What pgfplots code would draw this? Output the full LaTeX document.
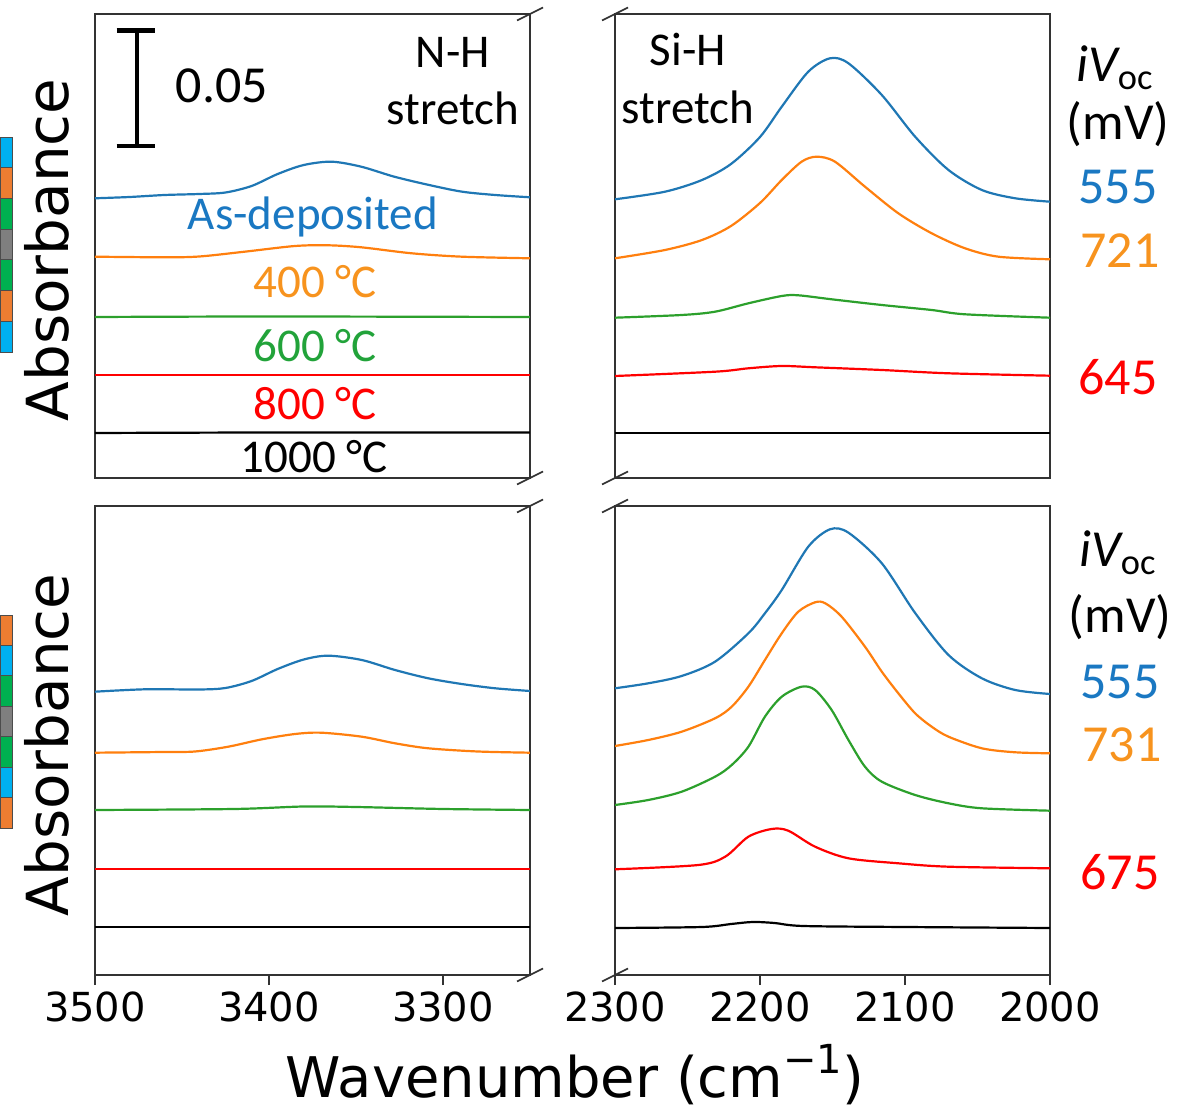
\documentclass[border=0pt]{standalone}
\usepackage{fontspec}
\setmainfont{DejaVu Sans}
\newfontfamily\carlito{Carlito}
\usepackage{pgfplots}
\pgfplotsset{compat=1.18}

\definecolor{cblue}{HTML}{1F77B4}
\definecolor{corange}{HTML}{FF7F0E}
\definecolor{cgreen}{HTML}{2CA02C}
\definecolor{cred}{HTML}{FF0000}
\definecolor{tblue}{HTML}{1A78C2}
\definecolor{torange}{HTML}{F7931E}
\definecolor{tgreen}{HTML}{22A33A}
\definecolor{sqb}{HTML}{00B0F0}
\definecolor{sqo}{HTML}{ED7D31}
\definecolor{sqg}{HTML}{00B050}
\definecolor{sqk}{HTML}{7F7F7F}

% y values are heights above the panel floor in image pixels (116 px = 0.05 absorbance)
\pgfplotsset{
  panel/.style={
    scale only axis, width=217.5pt, anchor=south west,
    x dir=reverse, ytick=\empty,
    axis line style={black!80, line width=0.8pt},
    tick style={black!80, line width=0.8pt},
    major tick length=5pt, xtick align=outside, xtick pos=left,
    /pgf/number format/assume math mode=true,
    /pgf/number format/1000 sep={},
    xticklabel style={font=\fontsize{20}{20}\selectfont},
    every axis plot/.append style={line width=1.1pt, smooth, tension=0.5, no markers},
  },
  toppanel/.style={ymin=0, ymax=464, height=232pt, xtick=\empty},
  botpanel/.style={ymin=0, ymax=469, height=234.5pt},
}

\begin{document}
\begin{tikzpicture}
\path[use as bounding box] (0,0) rectangle (589pt,555pt);

% ---------- top left: N-H ----------
\begin{axis}[panel, toppanel, name=tl, at={(47.5pt,316pt)}, xmin=3250, xmax=3500]
\addplot[cblue] coordinates {(3500,279.7)(3480,281)(3460,283)(3440,284)(3425,285.5)(3410,292)(3395,304)(3380,313)(3364,316.3)(3347,311.3)(3328,301.3)(3308,293)(3289,286.3)(3270,283)(3250,280.7)};
\addplot[corange] coordinates {(3500,221.3)(3460,220.7)(3440,221.5)(3414,226.3)(3385,232)(3366,232.7)(3347,230.7)(3318,224.7)(3289,221.3)(3250,219.7)};
\addplot[cgreen] coordinates {(3500,161)(3400,161.5)(3250,161)};
\addplot[cred] coordinates {(3500,103)(3400,103)(3250,103)};
\addplot[black] coordinates {(3500,45)(3400,45.5)(3250,45.5)};
\draw[black, line width=2.2pt] (axis cs:3476,332) -- (axis cs:3476,447.3);
\draw[black, line width=2.2pt] (axis cs:3487.5,332) -- (axis cs:3465.5,332);
\draw[black, line width=2.2pt] (axis cs:3487.5,447.3) -- (axis cs:3465.5,447.3);
\end{axis}

% ---------- top right: Si-H ----------
\begin{axis}[panel, toppanel, name=tr, at={(307.5pt,316pt)}, xmin=2000, xmax=2300]
\addplot[cblue] coordinates {(2300,278.7)(2265.5,286.3)(2240,298)(2220,314)(2200,341)(2185,371.3)(2166.7,406.3)(2151.7,419.7)(2139,414.7)(2116,383)(2093,341.3)(2070,308)(2047,288)(2024,279.7)(2000,276.3)};
\addplot[corange] coordinates {(2300,219.7)(2265.5,228)(2240,238)(2220,252)(2200,275)(2185,298)(2171.3,316.3)(2161,321.3)(2148.3,316.3)(2127.6,291.3)(2104.6,264.7)(2081.6,244.7)(2058.6,229.7)(2035.6,221.3)(2000,218.7)};
\addplot[cgreen] coordinates {(2300,160.3)(2254,163)(2231,166.3)(2208,174.7)(2185,182)(2173.6,182.7)(2150.6,178.7)(2116,173)(2081.6,168)(2058.6,163.7)(2000,160.3)};
\addplot[cred] coordinates {(2300,102)(2231,106.3)(2208,109.7)(2185,112)(2162,110.7)(2116,108)(2070,104.7)(2000,102.3)};
\addplot[black] coordinates {(2300,44.7)(2150,44.7)(2000,44.7)};
\end{axis}

% ---------- bottom left: N-H ----------
\begin{axis}[panel, botpanel, name=bl, at={(47.5pt,67.5pt)}, xmin=3250, xmax=3500, xtick={3500,3400,3300}]
\addplot[cblue] coordinates {(3500,283.3)(3471,285.7)(3440,285.5)(3425,287)(3410,294)(3395,306)(3380,315.5)(3366,319.3)(3346.7,315)(3327.6,305)(3308.5,296.7)(3289.3,291)(3270,286.7)(3250,284)};
\addplot[corange] coordinates {(3500,222.3)(3460,223)(3442.5,223.5)(3423.4,228.3)(3404,235.7)(3385,241)(3370,242.3)(3346.7,238.3)(3327.6,231.7)(3308.5,226.7)(3280,223.5)(3250,222.3)};
\addplot[cgreen] coordinates {(3500,165)(3420,166)(3380,168.5)(3350,168)(3300,166)(3250,165)};
\addplot[cred] coordinates {(3500,106)(3400,106)(3250,106)};
\addplot[black] coordinates {(3500,48)(3400,48)(3250,48)};
\end{axis}

% ---------- bottom right: Si-H ----------
\begin{axis}[panel, botpanel, name=br, at={(307.5pt,67.5pt)}, xmin=2000, xmax=2300, xtick={2300,2200,2100,2000}]
\addplot[cblue] coordinates {(2300,286.7)(2277,291.7)(2254,299)(2231,313.3)(2208,341.7)(2196.6,361.7)(2185,385)(2166.7,428.3)(2151.7,445.7)(2139,442.3)(2116,411.7)(2093,362)(2070,320)(2047,296.7)(2024,285)(2000,281)};
\addplot[corange] coordinates {(2300,229)(2277,235)(2254,243.3)(2231,256.7)(2219.5,268.3)(2208,288.3)(2196.6,315)(2185,341.7)(2173.6,363.3)(2162,372.7)(2155,371.7)(2143.7,358.3)(2127.6,328.3)(2116,303.3)(2104.6,281.7)(2093,261.7)(2081.6,248.3)(2070,238.3)(2047,226.7)(2024,222.7)(2000,221.7)};
\addplot[cgreen] coordinates {(2300,170)(2277,175)(2254,183.3)(2231,198.3)(2219.5,210)(2208,228.3)(2196.6,258.3)(2185,278.3)(2171.3,288.3)(2162,285)(2150.6,265)(2139,235)(2127.6,208.3)(2116,193.3)(2093,180)(2070,171.7)(2047,166.7)(2000,164.3)};
\addplot[cred] coordinates {(2300,105.7)(2242.5,110)(2224,118.3)(2208,138.3)(2192,146)(2180.5,144.3)(2162,128.3)(2139,116.7)(2104.6,111.7)(2070,108.3)(2000,106.7)};
\addplot[black] coordinates {(2300,47)(2240,48)(2220,51)(2205,53)(2190,52)(2170,49)(2100,48)(2000,47)};
\end{axis}

% axis break marks
\foreach \c in {tl.north east, tl.south east, bl.north east, bl.south east,
                tr.north west, tr.south west, br.north west, br.south west}
  \draw[black!80, line width=0.8pt] ([shift={(-6.5pt,-3.25pt)}]\c) -- ([shift={(6.5pt,3.25pt)}]\c);

% cropped legend swatches at the left edge
\foreach \col [count=\i from 0] in {sqb,sqo,sqg,sqk,sqg,sqo,sqb}
  \filldraw[fill=\col, draw=black!70, line width=0.4pt] (0pt,{486.5pt-\i*15.36pt}) rectangle (6pt,{486.5pt-(\i+1)*15.36pt});
\foreach \col [count=\i from 0] in {sqo,sqb,sqg,sqk,sqg,sqb,sqo}
  \filldraw[fill=\col, draw=black!70, line width=0.4pt] (0pt,{247.5pt-\i*15.21pt}) rectangle (6pt,{247.5pt-(\i+1)*15.21pt});

% axis titles
\node[rotate=90, font=\fontsize{29}{29}\selectfont] at (23.5pt,430pt) {Absorbance};
\node[rotate=90, font=\fontsize{29}{29}\selectfont] at (23.5pt,182.5pt) {Absorbance};
\node[anchor=base, inner sep=0pt, font=\fontsize{28}{28}\selectfont] at (287.5pt,6.5pt)
  {Wavenumber (cm\raisebox{0.42em}{\fontsize{20}{20}\selectfont −1})};

% panel annotations
\begin{scope}[every node/.style={anchor=base, inner sep=0pt, font=\carlito\fontsize{23.5}{23.5}\selectfont}]
\node at (111pt,503.5pt) {\fontsize{26}{26}\selectfont 0.05};
\node at (226.5pt,521pt) {N-H};
\node at (226.5pt,492.5pt) {stretch};
\node at (344pt,522pt) {Si-H};
\node at (344pt,493pt) {stretch};
\node[text=tblue] at (156.5pt,440pt) {As-deposited};
\node[text=torange] at (157.5pt,406pt) {400 °C};
\node[text=tgreen] at (157.5pt,374pt) {600 °C};
\node[text=cred] at (157.5pt,345pt) {800 °C};
\node[text=black] at (157pt,318.5pt) {1000 °C};
\end{scope}

% iVoc labels
\begin{scope}[every node/.style={anchor=base, inner sep=0pt, font=\carlito\fontsize{26}{26}\selectfont}]
\node at (557.5pt,514pt) {\itshape iV\textsubscript{\upshape oc}};
\node at (559pt,485pt) {(mV)};
\node[text=tblue] at (559pt,453pt) {555};
\node[text=torange] at (560pt,421pt) {721};
\node[text=cred] at (559pt,357.5pt) {645};
\node at (559pt,271.5pt) {\itshape iV\textsubscript{\upshape oc}};
\node at (560pt,239pt) {(mV)};
\node[text=tblue] at (560pt,206pt) {555};
\node[text=torange] at (561pt,174.5pt) {731};
\node[text=cred] at (560pt,110.5pt) {675};
\end{scope}
\end{tikzpicture}
\end{document}
